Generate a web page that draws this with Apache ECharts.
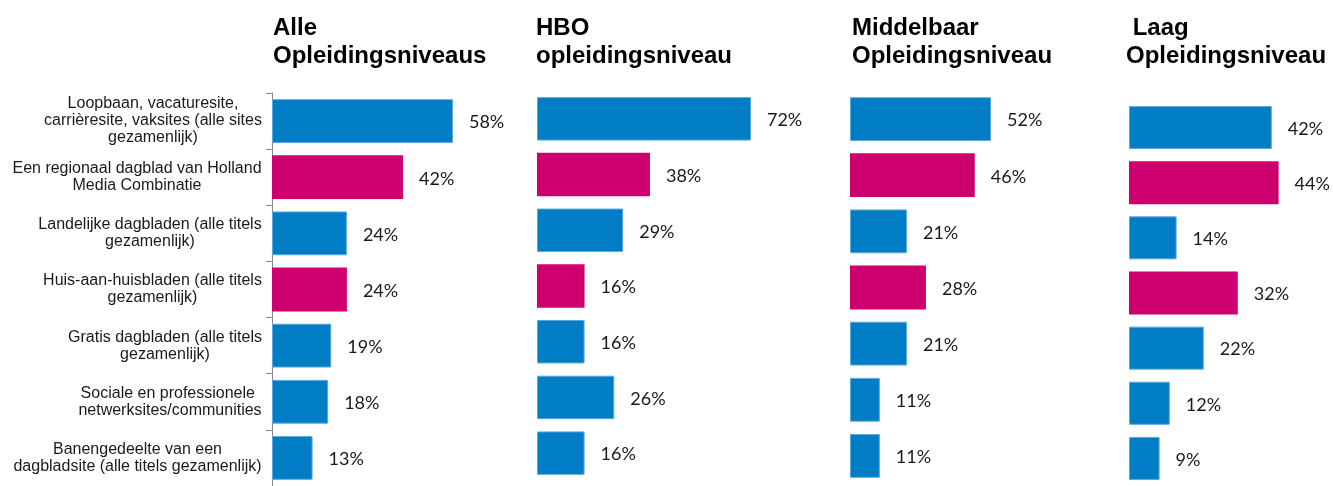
<!DOCTYPE html>
<html>
<head>
<meta charset="utf-8">
<script src="https://cdn.jsdelivr.net/npm/echarts@6/dist/echarts.min.js"></script>
<style>
  html, body { margin: 0; padding: 0; background: #fff; }
  #chart { width: 1333px; height: 486px; }
</style>
</head>
<body>
<div id="chart"></div>
<script>
// categories, top to bottom
const categories = [
    'Loopbaan, vacaturesite,\ncarrièresite, vaksites (alle sites\ngezamenlijk)',
    'Een regionaal dagblad van Holland\nMedia Combinatie',
    'Landelijke dagbladen (alle titels\ngezamenlijk)',
    'Huis-aan-huisbladen (alle titels\ngezamenlijk)',
    'Gratis dagbladen (alle titels\ngezamenlijk)',
    'Sociale en professionele \nnetwerksites/communities',
    'Banengedeelte van een\ndagbladsite (alle titels gezamenlijk)'
];
// rows drawn in magenta
const highlighted = [false, true, false, true, false, false, false];

const panelTitles = [
    'Alle\nOpleidingsniveaus',
    'HBO\nopleidingsniveau',
    'Middelbaar\nOpleidingsniveau',
    ' Laag\nOpleidingsniveau'
];
const alleValues = [58, 42, 24, 24, 19, 18, 13];
const hboValues = [72, 38, 29, 16, 16, 26, 16];
const middelbaarValues = [52, 46, 21, 28, 21, 11, 11];
const laagValues = [42, 44, 14, 32, 22, 12, 9];

const BLUE = '#007DC5';
const MAGENTA = '#CE006F';
const LABEL_FONT = '"Liberation Sans", Arial, sans-serif';
const LABEL_SIZE = 16;

// layout per panel: grid left/top/height, px width, x max
const panels = [
    {values: alleValues, left: 272, top: 93, height: 399, xMax: 80, width: 80 * 3.12, titleLeft: 273},
    {values: hboValues, left: 537, top: 91, height: 390, xMax: 80, width: 80 * 2.972, titleLeft: 536},
    {values: middelbaarValues, left: 850, top: 91, height: 393, xMax: 80, width: 80 * 2.712, titleLeft: 852},
    {values: laagValues, left: 1129, top: 100, height: 389, xMax: 60, width: 60 * 3.405, titleLeft: 1126}
];

// measure label blocks so every line can be centred in its own block
const ctx = document.createElement('canvas').getContext('2d');
ctx.font = LABEL_SIZE + 'px ' + LABEL_FONT;
const rich = {};
categories.forEach((c, i) => {
    const w = Math.max(...c.split('\n').map(l => ctx.measureText(l).width));
    rich['r' + i] = {
        width: Math.ceil(w),
        align: 'center',
        fontSize: LABEL_SIZE,
        lineHeight: 17,
        fontFamily: LABEL_FONT,
        color: '#1a1a1a'
    };
});

const chart = echarts.init(document.getElementById('chart'));

const option = {
    animation: false,
    backgroundColor: '#fff',
    title: panels.map((p, i) => ({
        text: panelTitles[i],
        left: p.titleLeft,
        top: 14,
        padding: 0,
        textStyle: {
            fontFamily: LABEL_FONT,
            fontWeight: 'bold',
            fontSize: 24,
            lineHeight: 28,
            color: '#000'
        }
    })),
    grid: panels.map(p => ({
        left: p.left,
        top: p.top,
        width: p.width,
        height: p.height
    })),
    xAxis: panels.map((p, i) => ({
        type: 'value',
        gridIndex: i,
        min: 0,
        max: p.xMax,
        show: false
    })),
    yAxis: panels.map((p, i) => ({
        type: 'category',
        gridIndex: i,
        inverse: true,
        data: categories,
        axisLine: {show: i === 0, lineStyle: {color: '#888', width: 1}},
        axisTick: {show: i === 0, length: 6, lineStyle: {color: '#888'}},
        axisLabel: {
            show: i === 0,
            margin: 10,
            formatter: (value, idx) => value.split('\n').map(l => '{r' + idx + '|' + l + '}').join('\n'),
            rich: rich
        }
    })),
    series: panels.map((p, i) => ({
        type: 'bar',
        xAxisIndex: i,
        yAxisIndex: i,
        barCategoryGap: '22%',
        data: p.values.map((v, k) => ({
            value: v,
            itemStyle: highlighted[k]
                ? {color: MAGENTA}
                : {color: BLUE, borderColor: '#5AAADC', borderWidth: 1}
        })),
        label: {
            show: true,
            position: 'right',
            distance: 16,
            offset: [0, 1.5],
            formatter: '{c}%',
            fontFamily: 'Lato, "Open Sans", sans-serif',
            fontSize: 18,
            color: '#1a1a1a'
        }
    }))
};

chart.setOption(option);
</script>
</body>
</html>
